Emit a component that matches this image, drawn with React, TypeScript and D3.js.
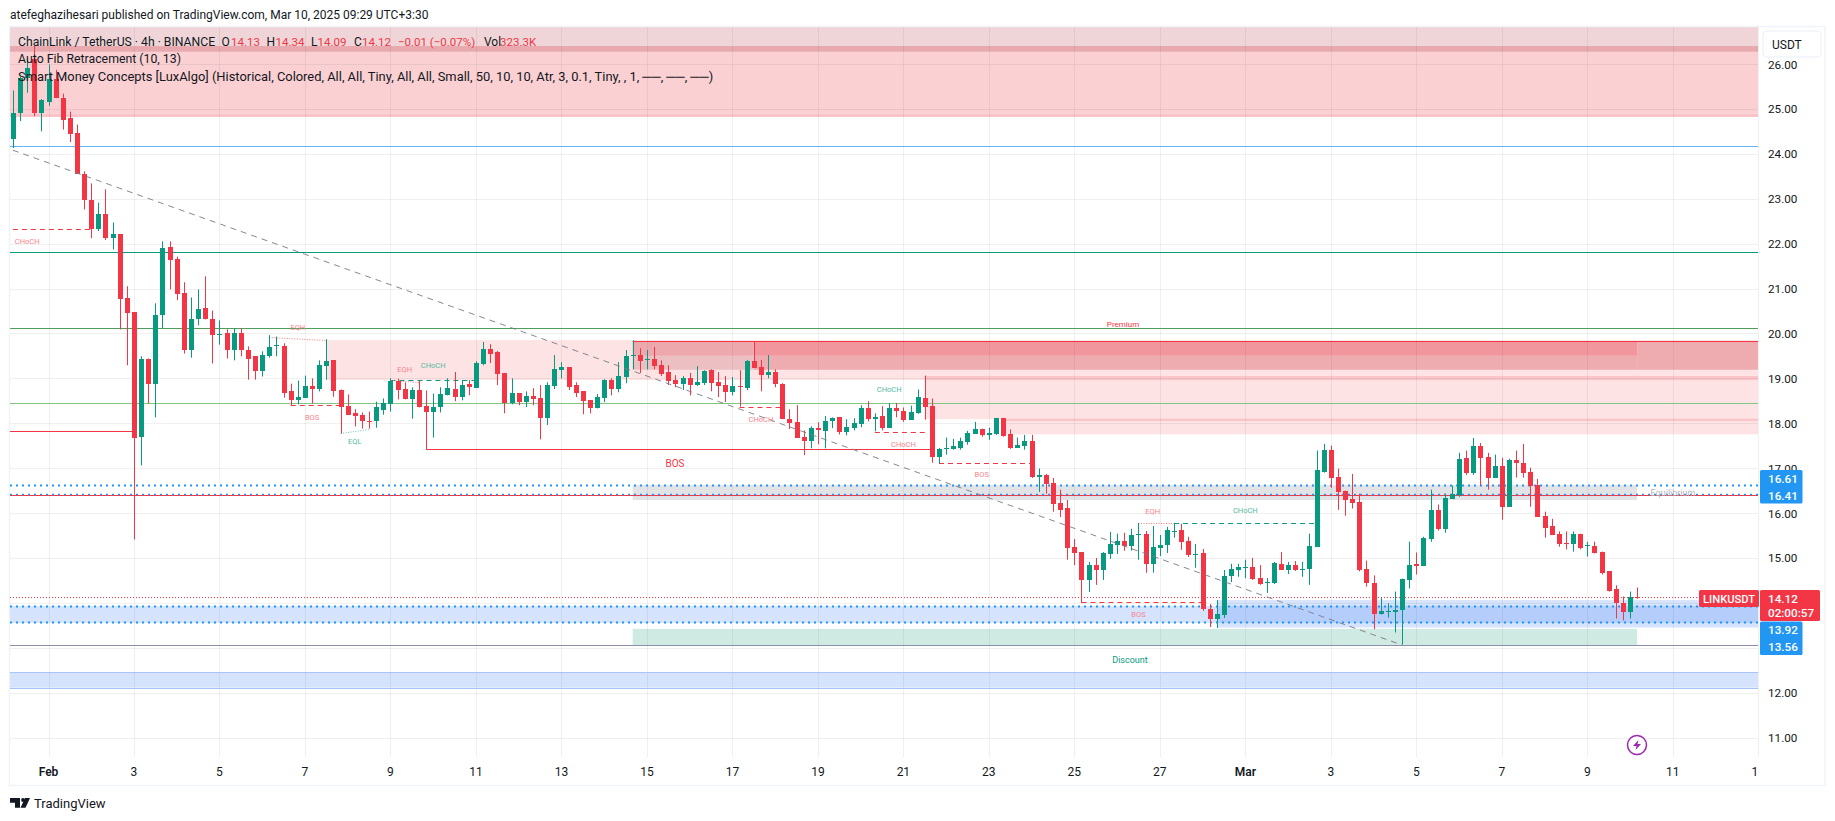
import React from 'react';
import * as d3 from 'd3';

// 4h candles, first one sits 5 bars before Feb 1
const firstBar = -5;
const opens = [
  24.33,24.90,25.69,26.12,24.90,25.15,25.67,25.25,24.79,24.47,
  23.56,22.98,22.32,22.67,22.12,22.21,20.78,20.47,17.70,19.44,
  18.88,20.40,21.92,21.65,20.89,19.62,20.31,20.56,20.33,19.98,
  20.00,19.62,20.02,19.64,19.49,19.17,19.49,19.72,19.71,18.71,
  18.51,18.57,18.82,18.77,19.27,19.40,18.73,18.39,18.22,18.19,
  18.05,18.04,18.30,18.42,18.93,18.77,18.53,18.73,18.39,18.24,
  18.35,18.62,18.76,18.58,18.87,18.78,19.32,19.65,19.58,19.12,
  18.45,18.67,18.47,18.60,18.56,18.11,18.83,19.18,19.25,18.85,
  18.71,18.51,18.33,18.56,18.96,18.76,19.03,19.51,19.52,19.42,
  19.43,19.29,19.14,18.96,18.87,19.00,18.85,18.89,19.18,18.91,
  18.85,18.69,18.83,18.78,19.38,19.25,19.07,19.14,18.87,18.09,
  18.02,17.69,17.60,17.89,17.82,18.04,18.13,17.80,17.89,17.98,
  18.33,18.10,18.15,17.89,18.33,18.28,18.08,18.23,18.57,18.39,
  17.25,17.43,17.43,17.45,17.59,17.77,17.88,17.74,17.77,18.12,
  17.77,17.45,17.50,17.61,16.81,16.85,16.67,16.23,16.12,15.25,
  15.13,14.51,14.84,14.73,15.09,15.29,15.38,15.27,15.52,15.54,
  14.87,15.22,15.29,15.57,15.62,15.38,15.07,15.11,13.86,13.64,
  13.73,14.60,14.73,14.78,14.80,14.55,14.43,14.44,14.87,14.73,
  14.84,14.74,14.75,15.25,16.92,17.41,16.81,16.50,16.32,16.25,
  14.76,14.45,13.74,13.79,13.79,13.83,14.50,14.87,14.83,15.43,
  16.07,15.65,16.32,16.39,17.23,16.90,17.50,17.25,16.79,17.05,
  16.14,17.19,17.12,16.92,16.63,15.94,15.70,15.54,15.34,15.30,
  15.54,15.26,15.27,15.14,14.70,14.30,13.99,13.79,14.13,
];
const highs = [
  25.41,25.72,26.13,26.41,25.22,25.99,25.87,25.34,24.94,24.65,
  23.61,23.34,22.91,23.21,22.47,22.21,21.05,20.47,19.49,19.44,
  20.67,22.05,22.05,21.71,21.14,20.80,20.98,21.27,20.51,20.29,
  20.09,20.11,20.11,19.71,19.49,19.60,19.96,19.93,19.78,18.88,
  18.95,19.06,19.00,19.40,19.87,19.40,18.75,18.64,18.31,18.24,
  18.26,18.48,18.55,19.00,18.99,18.91,18.80,18.95,18.73,18.66,
  18.80,19.00,19.14,18.96,18.96,19.38,19.81,19.76,19.61,19.12,
  19.00,18.67,18.71,18.78,18.85,18.91,19.52,19.36,19.25,18.91,
  18.71,18.51,18.65,18.98,19.00,19.36,19.63,19.85,19.67,19.63,
  19.70,19.40,19.29,19.07,19.05,19.12,19.27,19.18,19.20,19.14,
  19.05,19.03,19.18,19.41,19.81,19.41,19.52,19.20,18.89,18.31,
  18.40,17.84,17.93,18.02,18.16,18.13,18.13,18.09,18.11,18.40,
  18.49,18.22,18.38,18.45,18.45,18.35,18.39,18.75,19.06,18.55,
  17.45,17.68,17.65,17.68,17.83,18.03,17.88,17.90,18.12,18.12,
  17.86,17.68,17.74,17.74,16.99,16.87,16.78,16.52,16.29,15.42,
  15.13,14.91,15.00,15.13,15.58,15.54,15.56,15.65,15.78,15.60,
  15.71,15.51,15.69,15.78,15.76,15.47,15.31,15.20,13.97,14.06,
  14.73,14.87,14.87,14.96,15.00,14.84,14.55,14.91,15.13,14.91,
  14.93,14.91,15.54,17.39,17.54,17.50,16.99,16.50,16.87,16.43,
  14.94,14.61,14.12,13.99,14.25,14.54,15.36,15.12,15.47,16.52,
  16.19,16.43,16.61,17.34,17.39,17.67,17.56,17.34,17.30,17.23,
  17.21,17.39,17.54,17.01,16.76,16.03,15.87,15.59,15.59,15.59,
  15.54,15.36,15.36,15.14,14.70,14.39,14.14,14.25,14.34,
];
const lows = [
  24.13,24.73,25.36,24.84,24.50,25.07,25.24,24.54,24.26,23.55,
  22.76,22.12,22.28,22.08,21.87,20.09,19.29,15.41,17.06,18.44,
  18.13,20.11,20.98,20.74,19.55,19.46,20.18,20.31,19.33,19.75,
  19.44,19.40,19.49,18.97,18.97,19.04,19.46,19.49,18.57,18.39,
  18.42,18.57,18.44,18.71,18.97,18.59,17.77,18.19,17.93,17.88,
  17.88,17.90,18.19,18.26,18.53,18.53,18.10,18.35,17.41,17.68,
  18.24,18.62,18.49,18.51,18.62,18.78,19.29,19.34,18.85,18.22,
  18.42,18.40,18.36,18.40,17.64,17.96,18.76,19.00,18.74,18.58,
  18.20,18.22,18.33,18.47,18.62,18.69,18.89,19.20,19.12,19.20,
  19.20,19.05,18.85,18.80,18.74,18.62,18.83,18.85,18.71,18.58,
  18.47,18.62,18.37,18.74,19.23,18.71,19.00,18.80,18.09,17.87,
  17.67,17.29,17.44,17.53,17.44,17.89,17.75,17.73,17.84,17.91,
  18.04,17.82,17.84,17.89,18.13,18.03,18.08,18.21,18.08,17.12,
  17.10,17.30,17.41,17.41,17.52,17.77,17.70,17.63,17.74,17.70,
  17.43,17.45,17.41,16.78,16.47,16.43,16.03,15.91,14.96,14.84,
  14.00,14.24,14.40,14.51,14.98,15.09,15.16,15.16,14.96,14.67,
  14.67,15.04,15.11,15.45,15.18,15.02,14.78,13.82,13.46,13.44,
  13.66,14.46,14.58,14.55,14.51,14.40,14.22,14.42,14.73,14.64,
  14.71,14.58,14.40,15.25,16.90,16.56,16.07,15.94,16.10,14.70,
  14.36,13.41,13.74,13.67,13.34,13.07,14.32,14.63,14.83,15.36,
  15.61,15.56,16.32,16.36,16.85,16.85,16.61,16.52,16.79,15.85,
  16.14,16.79,16.79,16.14,15.92,15.45,15.52,15.25,15.19,15.14,
  15.19,15.03,15.10,14.63,14.25,13.65,13.61,13.65,14.09,
];
const closes = [
  24.90,25.69,25.90,24.90,25.19,25.67,25.24,24.76,24.45,23.55,
  22.96,22.32,22.67,22.12,22.21,20.76,20.45,17.68,19.44,18.88,
  20.42,21.90,21.63,20.87,19.62,20.33,20.54,20.31,19.96,19.99,
  19.62,20.00,19.62,19.44,19.17,19.51,19.69,19.74,18.68,18.51,
  18.59,18.82,18.77,19.29,19.38,18.71,18.37,18.19,18.17,18.04,
  18.04,18.35,18.46,18.93,18.75,18.53,18.73,18.35,18.24,18.37,
  18.66,18.78,18.58,18.85,18.80,19.34,19.65,19.54,19.09,18.45,
  18.67,18.47,18.60,18.54,18.11,18.85,19.20,19.25,18.80,18.67,
  18.49,18.33,18.58,18.96,18.76,19.05,19.49,19.52,19.38,19.43,
  19.27,19.09,18.94,18.87,19.00,18.85,18.91,19.16,18.89,18.83,
  18.69,18.83,18.81,19.38,19.23,19.07,19.14,18.87,18.09,18.00,
  17.67,17.60,17.89,17.84,18.04,18.11,17.80,17.91,18.00,18.33,
  18.09,18.13,17.89,18.33,18.27,18.08,18.26,18.59,18.37,17.25,
  17.43,17.45,17.50,17.61,17.79,17.86,17.74,17.79,18.12,17.72,
  17.45,17.52,17.61,16.81,16.85,16.65,16.20,16.07,15.22,15.11,
  14.51,14.84,14.73,15.11,15.31,15.38,15.27,15.51,15.54,14.87,
  15.25,15.29,15.62,15.60,15.36,15.07,15.09,13.86,13.64,13.75,
  14.60,14.75,14.80,14.80,14.53,14.42,14.46,14.89,14.73,14.84,
  14.73,14.76,15.27,16.96,17.41,16.78,16.47,16.30,16.23,14.74,
  14.43,13.74,13.81,13.81,13.83,14.52,14.85,14.81,15.45,16.07,
  15.65,16.34,16.43,17.21,16.90,17.50,17.23,16.79,17.05,16.14,
  17.19,17.12,16.90,16.61,15.92,15.67,15.52,15.32,15.32,15.54,
  15.23,15.28,15.12,14.67,14.27,13.99,13.79,14.14,14.12,
];

const priceTicks = [26, 25, 24, 23, 22, 21, 20, 19, 18, 17, 16, 15, 14, 13, 12, 11];
const timeTicks: [number, string][] = [
  [0, 'Feb'], [2, '3'], [4, '5'], [6, '7'], [8, '9'], [10, '11'], [12, '13'], [14, '15'], [16, '17'], [18, '19'],
  [20, '21'], [22, '23'], [24, '25'], [26, '27'], [28, 'Mar'], [30, '3'], [32, '5'], [34, '7'], [36, '9'], [38, '11'], [40, '13'],
];

// zones: from bar, to bar, top price, bottom price
const L = -5.4;
const R = 240;
const zones: [number, number, number, number][] = [
  [L, R, 26.82, 26.40], [L, R, 26.40, 26.27], [L, R, 26.27, 24.89], [L, R, 24.89, 24.82],
  [L, R, 12.45, 12.11],
  [L, R, 13.93, 13.55], [164, R, 14.06, 13.45], [164, R, 13.93, 13.55],
  [82, 223, 13.42, 13.05],
  [39, R, 19.85, 18.96], [123, R, 19.05, 18.09], [134, R, 18.10, 17.75], [123, R, 19.05, 18.96], [134, R, 18.10, 18.05],
  [82, 99, 19.82, 19.50], [82, 99, 19.50, 19.19], [99, 223, 19.82, 19.50], [99, 223, 19.50, 19.19], [223, R, 19.82, 19.19],
  [82, 223, 16.62, 16.29],
];
const zoneColors = [
  '#efd5d7', '#e8a9ae', '#fad0d3', '#fbc4c8',
  '#d5e3fd',
  '#d5e3fd', '#d5e3fd', '#b5cdfb',
  '#cfeae3',
  '#fde3e4', '#fde3e4', '#fde3e4', '#fbc4c8', '#fbc4c8',
  '#eda8ad', '#ecbfc2', '#f0969c', '#eeabb0', '#eeabb0',
  '#e1e3e6',
];

const levels: [number, string][] = [
  [24.17, '#64b5f6'], [21.81, '#089981'], [20.13, '#4f9e5b'], [18.46, '#81c784'],
  [16.40, '#F23645'], [13.05, '#8b8fa8'], [12.45, '#a9c4f8'], [12.11, '#a9c4f8'],
];
const dottedBlue = [16.61, 16.41, 13.92, 13.56];
const lastPrice = 14.12;

// structure lines: from bar, to bar, start price, end price
const structure: [number, number, number, number][] = [
  [L, 12, 17.82, 17.82], [53, 124, 17.42, 17.42], [82, R, 19.83, 19.83],
  [-5, 6, 22.32, 22.32], [34, 41, 18.40, 18.40], [97, 103, 18.35, 18.35], [116, 123, 17.80, 17.80],
  [125, 138, 17.11, 17.11], [145, 162, 14.01, 14.01],
  [48, 60, 18.97, 18.97], [158, 178, 15.77, 15.77],
  [31, 39, 19.93, 19.85], [48, 52, 18.96, 18.92], [153, 158, 15.77, 15.77], [41, 45, 17.78, 17.86],
];
const structureKinds = ['solid', 'solid', 'solid', 'dashRed', 'dashRed', 'dashRed', 'dashRed', 'dashRed', 'dashRed', 'dashGreen', 'dashGreen', 'dotRed', 'dotRed', 'dotRed', 'dotGreen'];
const trendFrom: [number, number] = [-5, 24.08];
const trendTo: [number, number] = [190, 13.06];

// smc labels: bar, price, text
const redLabels: [number, number, string][] = [
  [-3, 22.0, 'CHoCH'], [35, 20.07, 'EQH'], [37, 18.08, 'BOS'], [50, 19.14, 'EQH'], [100, 18.03, 'CHoCH'],
  [120, 17.48, 'CHoCH'], [131, 16.81, 'BOS'], [155, 15.98, 'EQH'], [153, 13.69, 'BOS'],
];
const greenLabels: [number, number, string][] = [[43, 17.53, 'EQL'], [54, 19.22, 'CHoCH'], [118, 18.70, 'CHoCH'], [168, 15.99, 'CHoCH']];

const W = 1835;
const H = 821;
const plotLeft = 10;
const plotTop = 27;
const plotRight = 1758;
const plotBottom = 757;
const upColor = '#089981';
const downColor = '#F23645';
const uiFont = 'Roboto, sans-serif';

const xScale = d3.scaleLinear().domain([0, 240]).range([48.5, 48.5 + 240 * 7.124]);
const yScale = d3.scaleLinear().domain([26, 11]).range([64, 737.5]);

const kindStyle = {
  solid: { stroke: '#F23645', dash: undefined },
  dashRed: { stroke: '#F23645', dash: '5 4' },
  dashGreen: { stroke: '#089981', dash: '5 4' },
  dotRed: { stroke: '#f77c80', dash: '1 1.5' },
  dotGreen: { stroke: '#6cc4b1', dash: '1 1.5' },
};

function Label({ x, y, fill, size, weight, children, anchor }: any) {
  return <text x={x} y={y} fill={fill} fontSize={size} fontWeight={weight} textAnchor={anchor} fontFamily={uiFont}>{children}</text>;
}

export default function App() {
  const bars = opens.map((o, i) => ({ bar: i + firstBar, o, h: highs[i], l: lows[i], c: closes[i] }));
  return (
    <svg width={W} height={H} style={{ position: 'absolute', left: 0, top: 0, background: '#fff' }}>
      <defs>
        <clipPath id="plot"><rect x={plotLeft} y={plotTop} width={plotRight - plotLeft} height={plotBottom - plotTop} /></clipPath>
        <clipPath id="timeAxis"><rect x={plotLeft} y={plotBottom} width={plotRight - plotLeft} height={28} /></clipPath>
      </defs>
      <rect x={9.5} y={26.5} width={1815.5} height={759} fill="none" stroke="#f0f3fa" strokeWidth={1.5} />
      <Label x={10} y={19} fill="#131722" size={12}>atefeghazihesari published on TradingView.com, Mar 10, 2025 09:29 UTC+3:30</Label>

      <g clipPath="url(#plot)">
        {zones.map((z, i) => (
          <rect key={i} x={xScale(z[0])} y={yScale(z[2])} width={xScale(z[1]) - xScale(z[0])} height={yScale(z[3]) - yScale(z[2])} fill={zoneColors[i]} />
        ))}
        {priceTicks.map(p => (
          <line key={p} x1={plotLeft} x2={plotRight} y1={Math.round(yScale(p)) + 0.5} y2={Math.round(yScale(p)) + 0.5} stroke="#2a2e39" strokeOpacity={0.07} />
        ))}
        {timeTicks.map(([d]) => {
          const x = Math.round(xScale(d * 6)) + 0.5;
          return <line key={d} x1={x} x2={x} y1={plotTop} y2={plotBottom} stroke="#2a2e39" strokeOpacity={0.07} />;
        })}
        {levels.map(([p, color]) => (
          <line key={p} x1={plotLeft} x2={plotRight} y1={Math.round(yScale(p)) + 0.5} y2={Math.round(yScale(p)) + 0.5} stroke={color} />
        ))}
        {dottedBlue.map((p, i) => (
          <line key={p} x1={plotLeft} x2={plotRight} y1={yScale(p)} y2={yScale(p)} stroke="#2196f3" strokeWidth={i === 1 ? 1.5 : 2} strokeDasharray="2 4" />
        ))}
        <line x1={plotLeft} x2={plotRight} y1={Math.round(yScale(lastPrice)) + 0.5} y2={Math.round(yScale(lastPrice)) + 0.5} stroke={downColor} strokeDasharray="1 2" />

        {structure.map((s, i) => {
          const st = kindStyle[structureKinds[i]];
          return <line key={i} x1={xScale(s[0])} x2={xScale(s[1])} y1={Math.round(yScale(s[2])) + 0.5} y2={Math.round(yScale(s[3])) + 0.5} stroke={st.stroke} strokeDasharray={st.dash} />;
        })}

        {bars.map(b => {
          const x = Math.round(xScale(b.bar));
          const color = b.c >= b.o ? upColor : downColor;
          const top = Math.round(yScale(Math.max(b.o, b.c)));
          const bottom = Math.round(yScale(Math.min(b.o, b.c)));
          return (
            <g key={b.bar} fill={color}>
              <rect x={x} y={yScale(b.h)} width={1} height={yScale(b.l) - yScale(b.h)} />
              <rect x={x - 2} y={top} width={5} height={Math.max(1, bottom - top)} />
            </g>
          );
        })}

        <line x1={xScale(trendFrom[0])} y1={yScale(trendFrom[1])} x2={xScale(trendTo[0])} y2={yScale(trendTo[1])} stroke="#787b86" strokeOpacity={0.9} strokeDasharray="6 5" />

        {redLabels.map(([b, p, t], i) => (
          <Label key={i} x={xScale(b)} y={yScale(p)} fill="#f7838a" size={7.5} anchor="middle">{t}</Label>
        ))}
        {greenLabels.map(([b, p, t], i) => (
          <Label key={i} x={xScale(b)} y={yScale(p)} fill="#55b9a4" size={7.5} anchor="middle">{t}</Label>
        ))}
        <Label x={675} y={467} fill="#F23645" size={10} anchor="middle">BOS</Label>
        <Label x={1123} y={327} fill="#F23645" size={8} anchor="middle">Premium</Label>
        <Label x={1130} y={663} fill="#089981" size={9} anchor="middle">Discount</Label>
        <Label x={1673} y={496} fill="#b2b5be" size={9} anchor="middle">Equilibrium</Label>

        <circle cx={1637} cy={745} r={9.5} fill="#fff" stroke="#9c27b0" strokeWidth={1.5} />
        <path d="M1638.5 740 L1633 746 L1636.5 746 L1635.5 750 L1641 744 L1637.5 744 Z" fill="#9c27b0" />
      </g>

      {/* legend */}
      <g>
        <Label x={18} y={46} fill="#131722" size={12.2}>ChainLink / TetherUS · 4h · BINANCE</Label>
        <Label x={221.5} y={46} fill="#131722" size={12}>O</Label><Label x={231} y={46} fill={downColor} size={11.5}>14.13</Label>
        <Label x={266.5} y={46} fill="#131722" size={12}>H</Label><Label x={275.5} y={46} fill={downColor} size={11.5}>14.34</Label>
        <Label x={311} y={46} fill="#131722" size={12}>L</Label><Label x={317.5} y={46} fill={downColor} size={11.5}>14.09</Label>
        <Label x={354} y={46} fill="#131722" size={12}>C</Label><Label x={362} y={46} fill={downColor} size={11.5}>14.12</Label>
        <Label x={398} y={46} fill={downColor} size={11.5}>−0.01 (−0.07%)</Label>
        <Label x={484} y={46} fill="#131722" size={12}>Vol</Label><Label x={500} y={46} fill={downColor} size={11.5}>323.3K</Label>
        <Label x={18} y={63} fill="#131722" size={12.3}>Auto Fib Retracement (10, 13)</Label>
        <Label x={18} y={80.5} fill="#131722" size={12.9}>Smart Money Concepts [LuxAlgo] (Historical, Colored, All, All, Tiny, All, All, Small, 50, 10, 10, Atr, 3, 0.1, Tiny, , 1, ──, ──, ──)</Label>
      </g>

      {/* time axis */}
      <g clipPath="url(#timeAxis)">
        {timeTicks.map(([d, t]) => (
          <Label key={d} x={xScale(d * 6)} y={776} fill="#131722" size={12} weight={t === 'Feb' || t === 'Mar' ? 600 : 400} anchor="middle">{t}</Label>
        ))}
      </g>

      {/* price axis */}
      <line x1={1758.5} x2={1758.5} y1={27} y2={757} stroke="#2a2e39" strokeOpacity={0.07} />
      {priceTicks.map(p => (
        <Label key={p} x={1768} y={yScale(p) + 4.5} fill="#131722" size={11.7}>{d3.format('.2f')(p)}</Label>
      ))}
      <rect x={1763} y={31} width={58} height={26} rx={4} fill="#fff" stroke="#f0f3fa" strokeWidth={1.5} />
      <Label x={1772} y={49} fill="#131722" size={12}>USDT</Label>

      <rect x={1760} y={470} width={42.5} height={33.5} rx={1.5} fill="#2196f3" />
      <Label x={1768} y={483} fill="#fff" size={11.7} weight={500}>16.61</Label>
      <Label x={1768} y={500} fill="#fff" size={11.7} weight={500}>16.41</Label>
      <rect x={1760} y={621.5} width={42.5} height={33.5} rx={1.5} fill="#2196f3" />
      <Label x={1768} y={633.5} fill="#fff" size={11.7} weight={500}>13.92</Label>
      <Label x={1768} y={651} fill="#fff" size={11.7} weight={500}>13.56</Label>
      <rect x={1699} y={590} width={60} height={17} rx={1.5} fill={downColor} />
      <Label x={1703} y={603} fill="#fff" size={11.2} weight={500}>LINKUSDT</Label>
      <rect x={1760} y={590} width={60} height={31} rx={1.5} fill={downColor} />
      <Label x={1768} y={603} fill="#fff" size={11.7} weight={500}>14.12</Label>
      <Label x={1768} y={617} fill="#fff" size={11.7} weight={500}>02:00:57</Label>

      {/* logo */}
      <path d="M10 798h10v9.7h-5v-5h-5z M30 798l-4.5 9.7h-5l4.5-9.7z" fill="#131722" />
      <circle cx={23} cy={800} r={1.9} fill="#131722" />
      <Label x={34} y={808} fill="#131722" size={13}>TradingView</Label>
    </svg>
  );
}
